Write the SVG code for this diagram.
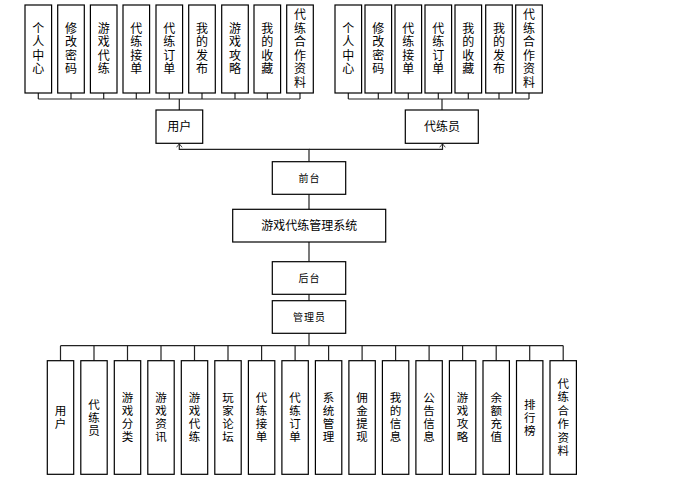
<svg xmlns="http://www.w3.org/2000/svg" width="689" height="479" viewBox="0 0 689 479">
<style>
rect{fill:#fff;stroke:#000;stroke-width:1.2}
rect.bg{stroke:none}
text{font-family:"Liberation Sans","Noto Sans CJK SC",sans-serif;fill:#000;text-anchor:middle;dominant-baseline:central}
.t{font-size:12px}
.b{font-size:11.5px}
.s{font-size:10px;letter-spacing:1px}
.c{stroke:#222;stroke-width:1.2;fill:none}
</style>
<defs>
<marker id="ar" viewBox="0 0 10 10" refX="9" refY="5" markerWidth="7" markerHeight="7" orient="auto" markerUnits="userSpaceOnUse">
<path d="M4,1 L9,5 L4,9" fill="none" stroke="#222" stroke-width="1.2"/>
</marker>
</defs>
<rect class="bg" width="689" height="479"/>
<g id="connectors">
<path class="c" d="M38.3,93V99M71,93V99M103.7,93V99M136.3,93V99M169.3,93V99M202,93V99M235,93V99M267.3,93V99M300,93V99M38.3,99H300M179.3,99V110"/>
<path class="c" d="M348.3,93V99M378.3,93V99M408.3,93V99M438.3,93V99M468.3,93V99M499,93V99M529,93V99M348.3,99H529"/>
<path class="c" stroke-width="2" d="M442,99V110"/>
<path class="c" d="M309,161.7V149.3H179.3V143.8" marker-end="url(#ar)"/>
<path class="c" d="M309,149.3H442.5V143.8" marker-end="url(#ar)"/>
<path class="c" d="M309,194.3V209.3M309,242V261.7M309,294.3V300.7"/>
<path class="c" stroke-width="2" d="M309,333.3V345.7"/>
<path class="c" d="M60.5,345.7H563.3"/>
<path class="c" d="M60.5,345.7V360.7M94,345.7V360.7M127.5,345.7V360.7M161,345.7V360.7M194.5,345.7V360.7M228,345.7V360.7M261.6,345.7V360.7M295.1,345.7V360.7M328.6,345.7V360.7M362.1,345.7V360.7M395.6,345.7V360.7M429.1,345.7V360.7M462.6,345.7V360.7M496.2,345.7V360.7M529.7,345.7V360.7M563.2,345.7V360.7"/>
</g>
<g id="u1"><rect x="25" y="5" width="26.6" height="88"/><text class="t" x="38.3"><tspan y="28.5">个</tspan><tspan x="38.3" y="42">人</tspan><tspan x="38.3" y="55.5">中</tspan><tspan x="38.3" y="69">心</tspan></text></g>
<g id="u2"><rect x="57.7" y="5" width="26.6" height="88"/><text class="t" x="71"><tspan y="28.5">修</tspan><tspan x="71" y="42">改</tspan><tspan x="71" y="55.5">密</tspan><tspan x="71" y="69">码</tspan></text></g>
<g id="u3"><rect x="90.4" y="5" width="26.6" height="88"/><text class="t" x="103.7"><tspan y="28.5">游</tspan><tspan x="103.7" y="42">戏</tspan><tspan x="103.7" y="55.5">代</tspan><tspan x="103.7" y="69">练</tspan></text></g>
<g id="u4"><rect x="123" y="5" width="26.6" height="88"/><text class="t" x="136.3"><tspan y="28.5">代</tspan><tspan x="136.3" y="42">练</tspan><tspan x="136.3" y="55.5">接</tspan><tspan x="136.3" y="69">单</tspan></text></g>
<g id="u5"><rect x="156" y="5" width="26.6" height="88"/><text class="t" x="169.3"><tspan y="28.5">代</tspan><tspan x="169.3" y="42">练</tspan><tspan x="169.3" y="55.5">订</tspan><tspan x="169.3" y="69">单</tspan></text></g>
<g id="u6"><rect x="188.7" y="5" width="26.6" height="88"/><text class="t" x="202"><tspan y="28.5">我</tspan><tspan x="202" y="42">的</tspan><tspan x="202" y="55.5">发</tspan><tspan x="202" y="69">布</tspan></text></g>
<g id="u7"><rect x="221.7" y="5" width="26.6" height="88"/><text class="t" x="235"><tspan y="28.5">游</tspan><tspan x="235" y="42">戏</tspan><tspan x="235" y="55.5">攻</tspan><tspan x="235" y="69">略</tspan></text></g>
<g id="u8"><rect x="254" y="5" width="26.6" height="88"/><text class="t" x="267.3"><tspan y="28.5">我</tspan><tspan x="267.3" y="42">的</tspan><tspan x="267.3" y="55.5">收</tspan><tspan x="267.3" y="69">藏</tspan></text></g>
<g id="u9"><rect x="286.7" y="5" width="26.6" height="88"/><text class="t" x="300"><tspan y="15">代</tspan><tspan x="300" y="28.5">练</tspan><tspan x="300" y="42">合</tspan><tspan x="300" y="55.5">作</tspan><tspan x="300" y="69">资</tspan><tspan x="300" y="82.5">料</tspan></text></g>
<g id="d1"><rect x="335" y="5" width="26.6" height="88"/><text class="t" x="348.3"><tspan y="28.5">个</tspan><tspan x="348.3" y="42">人</tspan><tspan x="348.3" y="55.5">中</tspan><tspan x="348.3" y="69">心</tspan></text></g>
<g id="d2"><rect x="365" y="5" width="26.6" height="88"/><text class="t" x="378.3"><tspan y="28.5">修</tspan><tspan x="378.3" y="42">改</tspan><tspan x="378.3" y="55.5">密</tspan><tspan x="378.3" y="69">码</tspan></text></g>
<g id="d3"><rect x="395" y="5" width="26.6" height="88"/><text class="t" x="408.3"><tspan y="28.5">代</tspan><tspan x="408.3" y="42">练</tspan><tspan x="408.3" y="55.5">接</tspan><tspan x="408.3" y="69">单</tspan></text></g>
<g id="d4"><rect x="425" y="5" width="26.6" height="88"/><text class="t" x="438.3"><tspan y="28.5">代</tspan><tspan x="438.3" y="42">练</tspan><tspan x="438.3" y="55.5">订</tspan><tspan x="438.3" y="69">单</tspan></text></g>
<g id="d5"><rect x="455" y="5" width="26.6" height="88"/><text class="t" x="468.3"><tspan y="28.5">我</tspan><tspan x="468.3" y="42">的</tspan><tspan x="468.3" y="55.5">收</tspan><tspan x="468.3" y="69">藏</tspan></text></g>
<g id="d6"><rect x="485.7" y="5" width="26.6" height="88"/><text class="t" x="499"><tspan y="28.5">我</tspan><tspan x="499" y="42">的</tspan><tspan x="499" y="55.5">发</tspan><tspan x="499" y="69">布</tspan></text></g>
<g id="d7"><rect x="515.7" y="5" width="26.6" height="88"/><text class="t" x="529"><tspan y="15">代</tspan><tspan x="529" y="28.5">练</tspan><tspan x="529" y="42">合</tspan><tspan x="529" y="55.5">作</tspan><tspan x="529" y="69">资</tspan><tspan x="529" y="82.5">料</tspan></text></g>
<g id="user"><rect x="156" y="110" width="46.7" height="33.3"/><text class="t" x="179.3" y="127" font-size="12.5">用户</text></g>
<g id="trainer"><rect x="405.3" y="110" width="73" height="33.3"/><text class="t" x="442" y="127">代练员</text></g>
<g id="front"><rect x="272.3" y="161.7" width="73.4" height="32.6"/><text class="s" x="309.5" y="178">前台</text></g>
<g id="system"><rect x="232.7" y="209.3" width="153" height="32.7"/><text class="t" x="309.2" y="225.7">游戏代练管理系统</text></g>
<g id="back"><rect x="272.3" y="261.7" width="73.4" height="32.6"/><text class="s" x="309.5" y="278">后台</text></g>
<g id="admin"><rect x="272.3" y="300.7" width="73.4" height="32.6"/><text class="s" x="309.5" y="317" letter-spacing="0">管理员</text></g>
<g id="b1"><rect x="47.3" y="360.7" width="26.4" height="113.6"/><text class="b" x="60.5"><tspan y="411">用</tspan><tspan x="60.5" y="424">户</tspan></text></g>
<g id="b2"><rect x="80.8" y="360.7" width="26.4" height="113.6"/><text class="b" x="94"><tspan y="404.5">代</tspan><tspan x="94" y="417.5">练</tspan><tspan x="94" y="430.5">员</tspan></text></g>
<g id="b3"><rect x="114.3" y="360.7" width="26.4" height="113.6"/><text class="b" x="127.5"><tspan y="398">游</tspan><tspan x="127.5" y="411">戏</tspan><tspan x="127.5" y="424">分</tspan><tspan x="127.5" y="437">类</tspan></text></g>
<g id="b4"><rect x="147.8" y="360.7" width="26.4" height="113.6"/><text class="b" x="161"><tspan y="398">游</tspan><tspan x="161" y="411">戏</tspan><tspan x="161" y="424">资</tspan><tspan x="161" y="437">讯</tspan></text></g>
<g id="b5"><rect x="181.3" y="360.7" width="26.4" height="113.6"/><text class="b" x="194.5"><tspan y="398">游</tspan><tspan x="194.5" y="411">戏</tspan><tspan x="194.5" y="424">代</tspan><tspan x="194.5" y="437">练</tspan></text></g>
<g id="b6"><rect x="214.8" y="360.7" width="26.4" height="113.6"/><text class="b" x="228"><tspan y="398">玩</tspan><tspan x="228" y="411">家</tspan><tspan x="228" y="424">论</tspan><tspan x="228" y="437">坛</tspan></text></g>
<g id="b7"><rect x="248.4" y="360.7" width="26.4" height="113.6"/><text class="b" x="261.6"><tspan y="398">代</tspan><tspan x="261.6" y="411">练</tspan><tspan x="261.6" y="424">接</tspan><tspan x="261.6" y="437">单</tspan></text></g>
<g id="b8"><rect x="281.9" y="360.7" width="26.4" height="113.6"/><text class="b" x="295.1"><tspan y="398">代</tspan><tspan x="295.1" y="411">练</tspan><tspan x="295.1" y="424">订</tspan><tspan x="295.1" y="437">单</tspan></text></g>
<g id="b9"><rect x="315.4" y="360.7" width="26.4" height="113.6"/><text class="b" x="328.6"><tspan y="398">系</tspan><tspan x="328.6" y="411">统</tspan><tspan x="328.6" y="424">管</tspan><tspan x="328.6" y="437">理</tspan></text></g>
<g id="b10"><rect x="348.9" y="360.7" width="26.4" height="113.6"/><text class="b" x="362.1"><tspan y="398">佣</tspan><tspan x="362.1" y="411">金</tspan><tspan x="362.1" y="424">提</tspan><tspan x="362.1" y="437">现</tspan></text></g>
<g id="b11"><rect x="382.4" y="360.7" width="26.4" height="113.6"/><text class="b" x="395.6"><tspan y="398">我</tspan><tspan x="395.6" y="411">的</tspan><tspan x="395.6" y="424">信</tspan><tspan x="395.6" y="437">息</tspan></text></g>
<g id="b12"><rect x="415.9" y="360.7" width="26.4" height="113.6"/><text class="b" x="429.1"><tspan y="398">公</tspan><tspan x="429.1" y="411">告</tspan><tspan x="429.1" y="424">信</tspan><tspan x="429.1" y="437">息</tspan></text></g>
<g id="b13"><rect x="449.4" y="360.7" width="26.4" height="113.6"/><text class="b" x="462.6"><tspan y="398">游</tspan><tspan x="462.6" y="411">戏</tspan><tspan x="462.6" y="424">攻</tspan><tspan x="462.6" y="437">略</tspan></text></g>
<g id="b14"><rect x="483" y="360.7" width="26.4" height="113.6"/><text class="b" x="496.2"><tspan y="398">余</tspan><tspan x="496.2" y="411">额</tspan><tspan x="496.2" y="424">充</tspan><tspan x="496.2" y="437">值</tspan></text></g>
<g id="b15"><rect x="516.5" y="360.7" width="26.4" height="113.6"/><text class="b" x="529.7"><tspan y="404.5">排</tspan><tspan x="529.7" y="417.5">行</tspan><tspan x="529.7" y="430.5">榜</tspan></text></g>
<g id="b16"><rect x="550" y="360.7" width="26.4" height="113.6"/><text class="b" x="563.2"><tspan y="384">代</tspan><tspan x="563.2" y="397.4">练</tspan><tspan x="563.2" y="410.8">合</tspan><tspan x="563.2" y="424.2">作</tspan><tspan x="563.2" y="437.6">资</tspan><tspan x="563.2" y="451">料</tspan></text></g>
</svg>
